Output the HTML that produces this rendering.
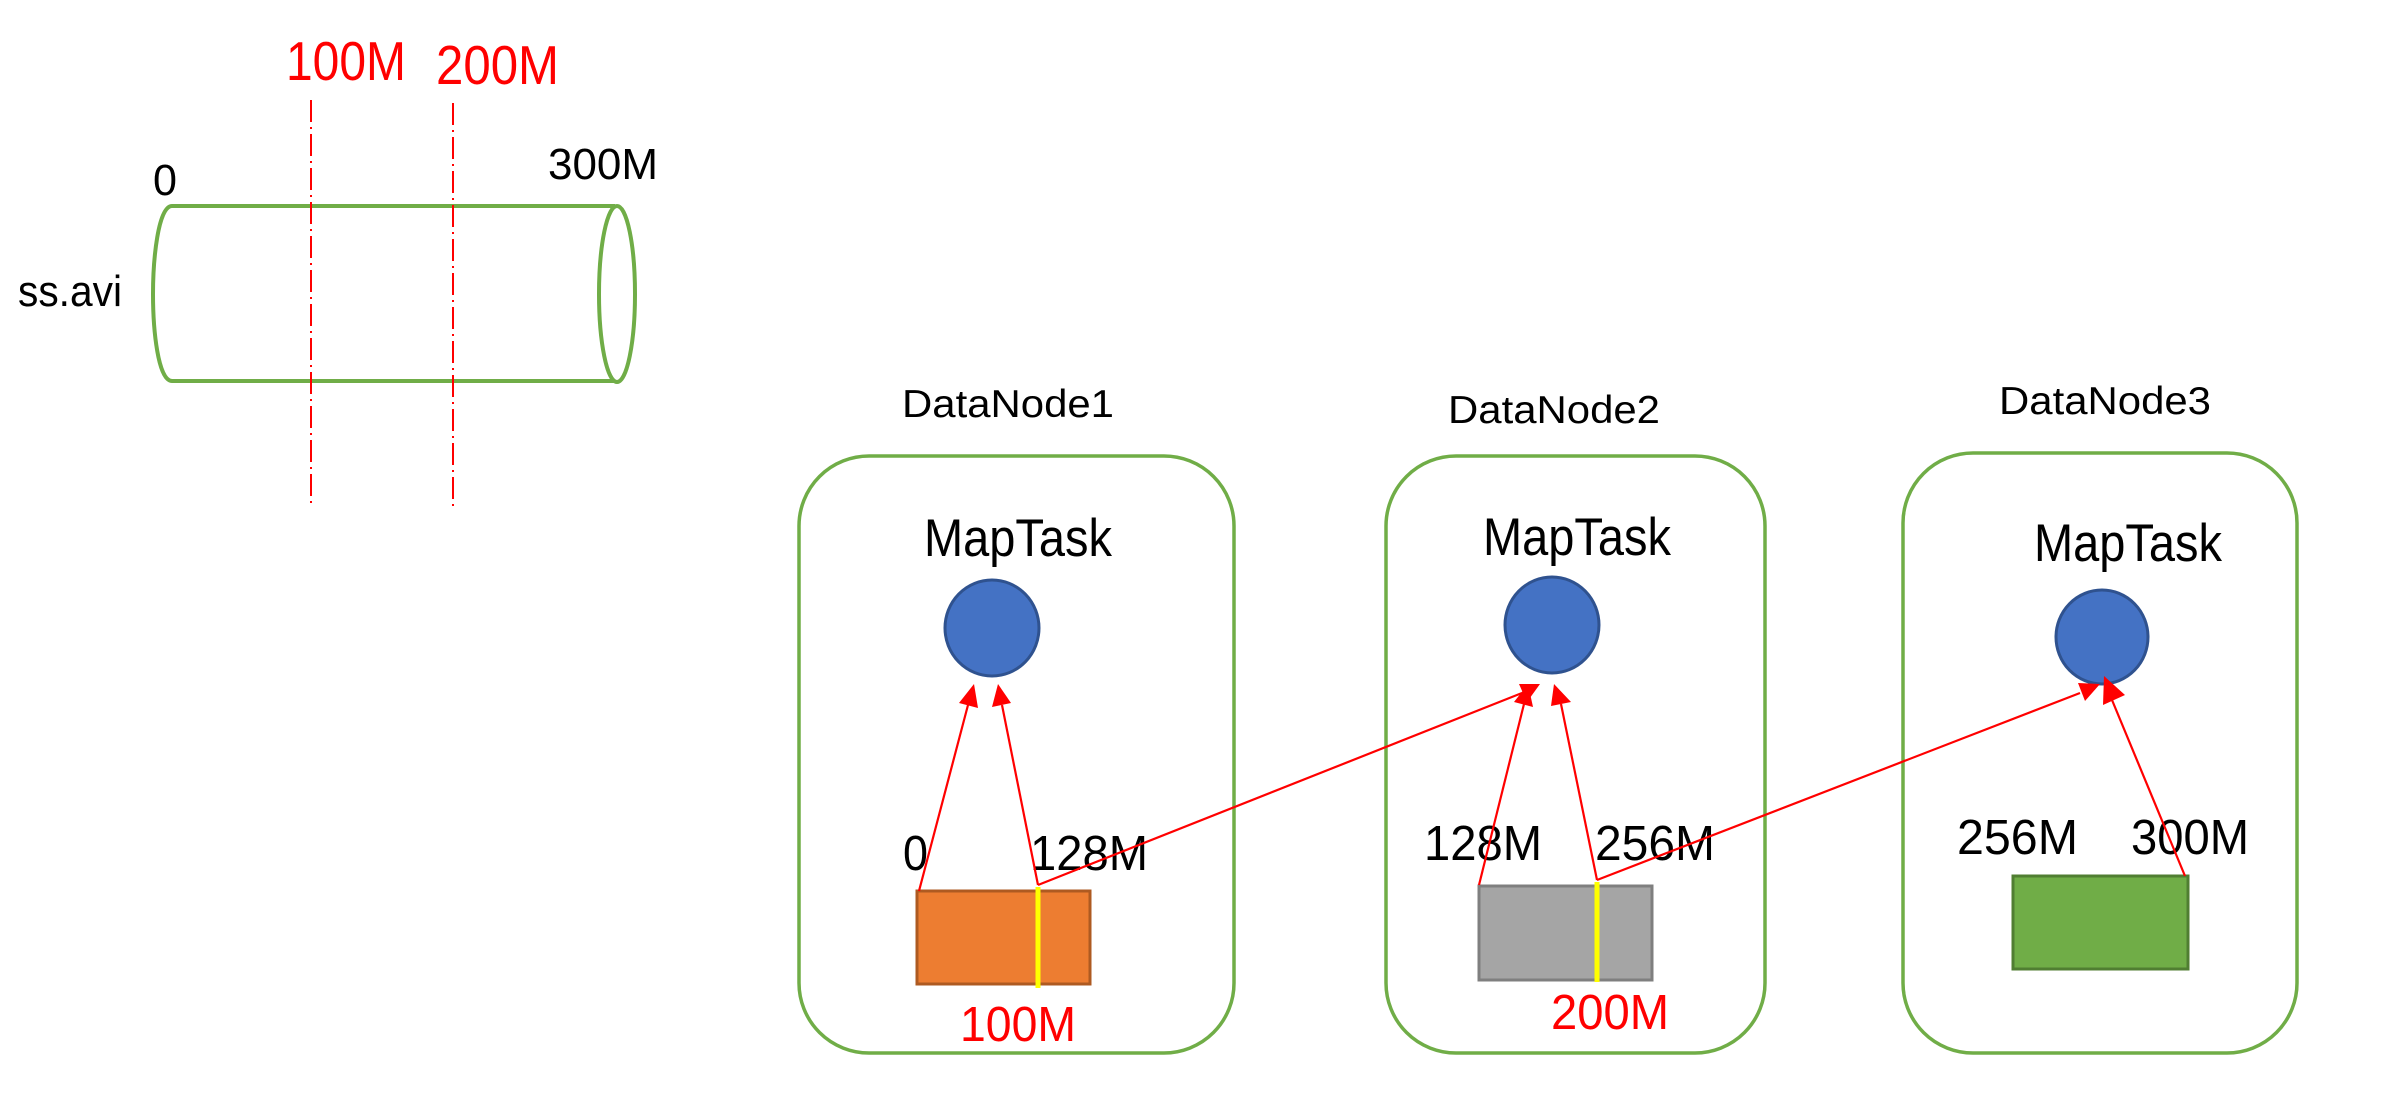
<!DOCTYPE html>
<html><head><meta charset="utf-8"><style>html,body{margin:0;padding:0;background:#fff}svg{display:block}</style></head>
<body>
<svg width="2401" height="1103" viewBox="0 0 2401 1103" xmlns="http://www.w3.org/2000/svg" font-family="Liberation Sans, sans-serif">
<!-- cylinder -->
<g fill="none" stroke="#70AD47" stroke-width="4">
<path d="M172,206 L615,206 M172,381 L615,381"/>
<path d="M172,206 C158,206 153,260 153,294 C153,330 158,381 172,381"/>
<ellipse cx="617" cy="294" rx="18" ry="88"/>
</g>
<g stroke="#FF0000" stroke-width="2" stroke-dasharray="22,5,2,5">
<line x1="311" y1="100" x2="311" y2="505"/>
<line x1="453" y1="103" x2="453" y2="510"/>
</g>
<text x="286" y="80" font-size="55" fill="#FF0000" textLength="120" lengthAdjust="spacingAndGlyphs">100M</text>
<text x="436" y="84" font-size="55" fill="#FF0000" textLength="123" lengthAdjust="spacingAndGlyphs">200M</text>
<text x="153" y="195" font-size="44" fill="#000" textLength="24" lengthAdjust="spacingAndGlyphs">0</text>
<text x="548" y="179" font-size="44" fill="#000" textLength="110" lengthAdjust="spacingAndGlyphs">300M</text>
<text x="18" y="306" font-size="44" fill="#000" textLength="104" lengthAdjust="spacingAndGlyphs">ss.avi</text>

<!-- datanodes -->
<g fill="none" stroke="#70AD47" stroke-width="3.5">
<rect x="799" y="456" width="435" height="597" rx="70"/>
<rect x="1386" y="456" width="379" height="597" rx="70"/>
<rect x="1903" y="453" width="394" height="600" rx="70"/>
</g>
<g font-size="39" fill="#000" text-anchor="middle">
<text x="1008" y="417" textLength="212" lengthAdjust="spacingAndGlyphs">DataNode1</text>
<text x="1554" y="423" textLength="212" lengthAdjust="spacingAndGlyphs">DataNode2</text>
<text x="2105" y="414" textLength="212" lengthAdjust="spacingAndGlyphs">DataNode3</text>
</g>
<g font-size="53" fill="#000" text-anchor="middle">
<text x="1018" y="556" textLength="188" lengthAdjust="spacingAndGlyphs">MapTask</text>
<text x="1577" y="555" textLength="188" lengthAdjust="spacingAndGlyphs">MapTask</text>
<text x="2128" y="561" textLength="188" lengthAdjust="spacingAndGlyphs">MapTask</text>
</g>
<g fill="#4472C4" stroke="#2F528F" stroke-width="3">
<ellipse cx="992" cy="628" rx="47" ry="48"/>
<ellipse cx="1552" cy="625" rx="47" ry="48"/>
<ellipse cx="2102" cy="637" rx="46" ry="47"/>
</g>
<rect x="917" y="891" width="173" height="93" fill="#ED7D31" stroke="#AE5A21" stroke-width="3"/>
<line x1="1038" y1="887" x2="1038" y2="988" stroke="#FFFF00" stroke-width="5"/>
<rect x="1479" y="886" width="173" height="94" fill="#A5A5A5" stroke="#7F7F7F" stroke-width="3"/>
<line x1="1597" y1="882" x2="1597" y2="982" stroke="#FFFF00" stroke-width="5"/>
<rect x="2013" y="876" width="175" height="93" fill="#70AD47" stroke="#507E32" stroke-width="3"/>

<g font-size="49" fill="#000">
<text x="903" y="870" textLength="25" lengthAdjust="spacingAndGlyphs">0</text>
<text x="1030" y="870" textLength="118" lengthAdjust="spacingAndGlyphs">128M</text>
<text x="1424" y="860" textLength="118" lengthAdjust="spacingAndGlyphs">128M</text>
<text x="1595" y="860" textLength="120" lengthAdjust="spacingAndGlyphs">256M</text>
<text x="1957" y="854" textLength="121" lengthAdjust="spacingAndGlyphs">256M</text>
<text x="2131" y="854" textLength="118" lengthAdjust="spacingAndGlyphs">300M</text>
</g>
<g font-size="49" fill="#FF0000">
<text x="960" y="1041" textLength="116" lengthAdjust="spacingAndGlyphs">100M</text>
<text x="1551" y="1029" textLength="118" lengthAdjust="spacingAndGlyphs">200M</text>
</g>

<!-- arrows -->
<g stroke="#FF0000" stroke-width="2.2" fill="none">
<line x1="919" y1="891" x2="968" y2="705"/>
<line x1="1038" y1="885" x2="1002" y2="705"/>
<line x1="1038" y1="885" x2="1522" y2="693"/>
<line x1="1479" y1="885" x2="1524" y2="704"/>
<line x1="1597" y1="880" x2="1561" y2="704"/>
<line x1="1597" y1="880" x2="2080" y2="693"/>
<line x1="2185" y1="876" x2="2112" y2="700"/>
</g>
<g fill="#FF0000">
<polygon points="974,684 978,708 959,703"/>
<polygon points="998,684 1011,703 992,707"/>
<polygon points="1540,684 1527,702 1519,684"/>
<polygon points="1528,684 1533,707 1514,702"/>
<polygon points="1554,684 1571,702 1551,706"/>
<polygon points="2100,684 2085,701 2078,683"/>
<polygon points="2104,676 2125,695 2103,705"/>
</g>
</svg>
</body></html>
